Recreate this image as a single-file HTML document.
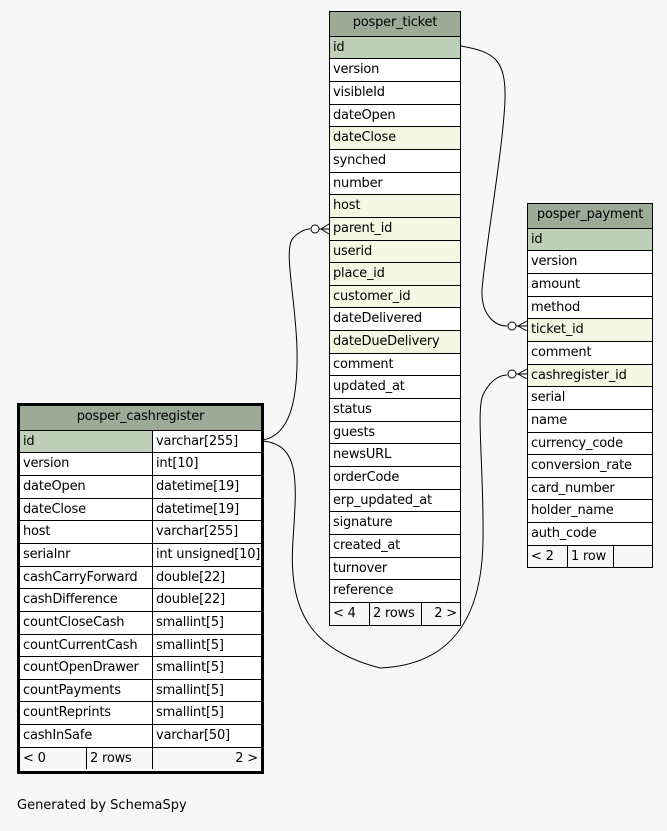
<!DOCTYPE html>
<html><head><meta charset="utf-8"><style>
body{margin:0;width:667px;height:831px;background:#f7f7f7;position:relative;overflow:hidden;font-family:"DejaVu Sans","Liberation Sans",sans-serif;font-size:13px;color:#000}
.t{position:absolute;border:1px solid #000;background:#fff;box-sizing:border-box}
.r{height:22.66px;box-sizing:border-box;border-top:1px solid #000;line-height:21px;padding-left:3px;white-space:nowrap;position:relative;overflow:visible;letter-spacing:-0.2px}
.h{background:#9bab96;text-align:center;border-top:none;height:23.6px;padding-left:0}
.pk{background:#bed1b8}
.fk{background:#f4f7e2}
.c2{position:absolute;left:132px;top:0;bottom:0;border-left:1px solid #000;padding-left:3px}
.f span{position:absolute;top:0;bottom:0}
</style></head><body>

<svg width="667" height="831" style="position:absolute;left:0;top:0" fill="none" stroke="#000" stroke-width="1">
<path d="M461,46 C495,52 506,60 505,100 C503,150 485,250 482,290 C481,315 495,326 507,326"/>
<circle cx="512" cy="326" r="4" fill="#fff"/>
<path d="M516,326 L527,326 M518,326 L527,321 M518,326 L527,331"/>
<path d="M263,440 C290,435 298,400 297,350 C296,300 283,250 293,238 C299,232 305,229 310,229"/>
<circle cx="315" cy="229" r="4" fill="#fff"/>
<path d="M319,229 L329,229 M321,229 L329,224 M321,229 L329,234"/>
<path d="M263,441 C300,445 297,480 293,540 C288,610 310,650 380,668 C450,665 482,620 483,540 C484,470 476,410 483,395 C490,380 500,375 507,375"/>
<circle cx="512" cy="374" r="4" fill="#fff"/>
<path d="M516,374 L527,374 M518,374 L527,369 M518,374 L527,379"/>
</svg>

<div class="t" style="left:329px;top:11px;width:132px">
<div class="r h">posper_ticket</div>
<div class="r pk">id</div>
<div class="r">version</div>
<div class="r">visibleId</div>
<div class="r">dateOpen</div>
<div class="r fk">dateClose</div>
<div class="r">synched</div>
<div class="r">number</div>
<div class="r fk">host</div>
<div class="r fk">parent_id</div>
<div class="r fk">userid</div>
<div class="r fk">place_id</div>
<div class="r fk">customer_id</div>
<div class="r">dateDelivered</div>
<div class="r fk">dateDueDelivery</div>
<div class="r">comment</div>
<div class="r">updated_at</div>
<div class="r">status</div>
<div class="r">guests</div>
<div class="r">newsURL</div>
<div class="r">orderCode</div>
<div class="r">erp_updated_at</div>
<div class="r">signature</div>
<div class="r">created_at</div>
<div class="r">turnover</div>
<div class="r">reference</div>
<div class="r f" style="background:#f7f7f7"><span style="left:3px">&lt; 4</span><span style="left:39px;border-left:1px solid #000;padding-left:3px">2 rows</span><span style="left:91px;right:0;border-left:1px solid #000;text-align:right;padding-right:3px">2 &gt;</span></div>
</div>

<div class="t" style="left:527px;top:203px;width:126px">
<div class="r h">posper_payment</div>
<div class="r pk">id</div>
<div class="r">version</div>
<div class="r">amount</div>
<div class="r">method</div>
<div class="r fk">ticket_id</div>
<div class="r">comment</div>
<div class="r fk">cashregister_id</div>
<div class="r">serial</div>
<div class="r">name</div>
<div class="r">currency_code</div>
<div class="r">conversion_rate</div>
<div class="r">card_number</div>
<div class="r">holder_name</div>
<div class="r">auth_code</div>
<div class="r f" style="background:#f7f7f7"><span style="left:3px">&lt; 2</span><span style="left:39px;border-left:1px solid #000;padding-left:3px">1 row</span><span style="left:85px;right:0;border-left:1px solid #000"></span></div>
</div>

<div style="position:absolute;left:17px;top:403px;width:247px;height:371px;border:3px solid #000;box-sizing:border-box;background:#fff"></div>
<div class="t" style="left:20px;top:406px;width:241px;border:none">
<div class="r h">posper_cashregister</div>
<div class="r pk" style="background:linear-gradient(90deg,#bed1b8 132px,#fff 132px)">id<span class="c2">varchar[255]</span></div>
<div class="r">version<span class="c2">int[10]</span></div>
<div class="r">dateOpen<span class="c2">datetime[19]</span></div>
<div class="r">dateClose<span class="c2">datetime[19]</span></div>
<div class="r">host<span class="c2">varchar[255]</span></div>
<div class="r">serialnr<span class="c2">int unsigned[10]</span></div>
<div class="r">cashCarryForward<span class="c2">double[22]</span></div>
<div class="r">cashDifference<span class="c2">double[22]</span></div>
<div class="r">countCloseCash<span class="c2">smallint[5]</span></div>
<div class="r">countCurrentCash<span class="c2">smallint[5]</span></div>
<div class="r">countOpenDrawer<span class="c2">smallint[5]</span></div>
<div class="r">countPayments<span class="c2">smallint[5]</span></div>
<div class="r">countReprints<span class="c2">smallint[5]</span></div>
<div class="r">cashInSafe<span class="c2">varchar[50]</span></div>
<div class="r f" style="background:#f7f7f7"><span style="left:3px">&lt; 0</span><span style="left:66px;border-left:1px solid #000;padding-left:3px">2 rows</span><span style="left:132px;right:0;border-left:1px solid #000;text-align:right;padding-right:3px">2 &gt;</span></div>
</div>

<div style="position:absolute;left:17px;top:798px;font-size:13px">Generated by SchemaSpy</div>
</body></html>
